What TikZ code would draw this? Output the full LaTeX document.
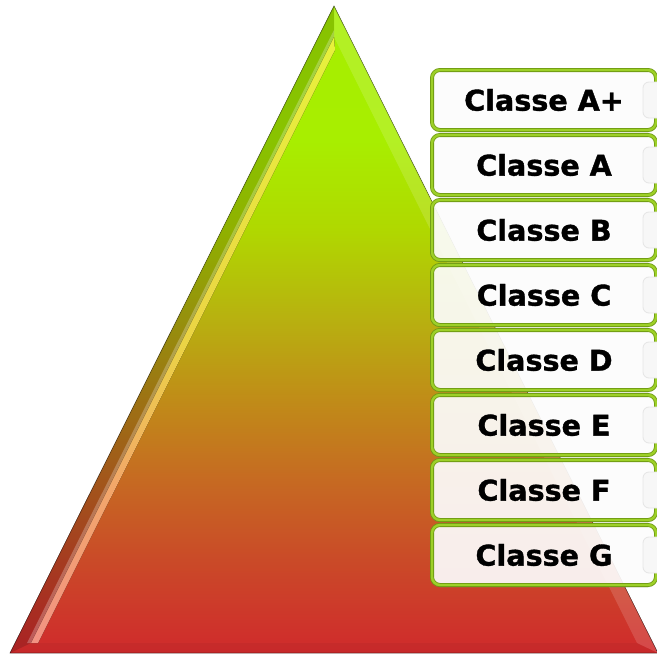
\documentclass[tikz,border=0pt]{standalone}
\usepackage{fontspec}
\setmainfont{DejaVu Sans}
\newfontfamily\boxfont{DejaVu Sans}[BoldFeatures={FakeBold=1.2}]
\usetikzlibrary{shadows}
\definecolor{s1}{HTML}{D02A2C}
\definecolor{s2}{HTML}{CA4A28}
\definecolor{s3}{HTML}{C66A22}
\definecolor{s4}{HTML}{C08C18}
\definecolor{s5}{HTML}{B8B010}
\definecolor{s6}{HTML}{B0D800}
\definecolor{s7}{HTML}{A8EE00}
\definecolor{s8}{HTML}{A6EE00}
\definecolor{boxdark}{HTML}{6E9812}
\definecolor{boxgreen}{HTML}{9DD028}
\definecolor{h1}{HTML}{FF9A8A}
\definecolor{h2}{HTML}{FFB070}
\definecolor{h3}{HTML}{F8E048}
\definecolor{h4}{HTML}{F4FF40}
\pgfdeclareverticalshading{trishade}{100bp}{color(0bp)=(s1); color(25bp)=(s1); color(32.2bp)=(s2); color(38.4bp)=(s3); color(44.6bp)=(s4); color(50.7bp)=(s5); color(57.7bp)=(s6); color(64.6bp)=(s7); color(75bp)=(s8); color(100bp)=(s8)}
\pgfdeclareverticalshading{hishade}{100bp}{color(0bp)=(h1); color(25bp)=(h1); color(38bp)=(h2); color(50bp)=(h3); color(75bp)=(h4); color(100bp)=(h4)}
\begin{document}
\begin{tikzpicture}[x=1pt,y=-1pt,
  classbox/.style={draw=boxdark, double=boxgreen, double distance=2.4pt, line width=0.8pt,
    fill=white, fill opacity=0.9, text opacity=1, rounded corners=8pt,
    minimum width=224pt, minimum height=60pt, inner sep=0pt,
    font=\fontsize{28.6}{32}\boxfont\bfseries, text=black,
    drop shadow={opacity=0.18, shadow xshift=0pt, shadow yshift=-2.5pt}},
  ghostbox/.style={draw=black!10, line width=0.8pt, fill=black!3, rounded corners=6pt}]
\useasboundingbox (0,0) rectangle (657,656);
\begin{scope}
  \clip (0,0) rectangle (657,656);
  \coordinate (apex) at (334,6);
  \coordinate (bl) at (10,653);
  \coordinate (br) at (658,653);
  \coordinate (iapex) at (334,37);
  \coordinate (ibl) at (31,643);
  \coordinate (ibr) at (637,643);
  \fill[shading=trishade] (apex) -- (bl) -- (br) -- cycle;
  \fill[black, opacity=0.18] (apex) -- (bl) -- (ibl) -- (iapex) -- cycle;
  \fill[white, opacity=0.14] (apex) -- (iapex) -- (ibr) -- (br) -- cycle;
  \fill[black, opacity=0.04] (bl) -- (ibl) -- (ibr) -- (br) -- cycle;
  \fill[white, opacity=0.25] (334,30) -- (27,643) -- (31,643) -- (334,37) -- cycle;
  \fill[shading=hishade, opacity=0.95]
    (334,37) -- (31,643) -- (38,643) -- (335,50) -- cycle;
  \draw[black, opacity=0.35, line width=0.7pt] (apex) -- (bl) -- (br) -- cycle;
\end{scope}
\foreach \nm/\lab [count=\k from 0] in {cAplus/Classe A+, cA/Classe A, cB/Classe B, cC/Classe C, cD/Classe D, cE/Classe E, cF/Classe F, cG/Classe G}{
  \node[classbox] (\nm) at (544,{100+65*\k}) {\lab};
}
\begin{scope}
  \clip (0,0) rectangle (657,656);
  \foreach \k in {0,...,7}{
    \draw[ghostbox] (643,{82+65*\k}) rectangle (680,{118+65*\k});
  }
\end{scope}
\end{tikzpicture}
\end{document}
